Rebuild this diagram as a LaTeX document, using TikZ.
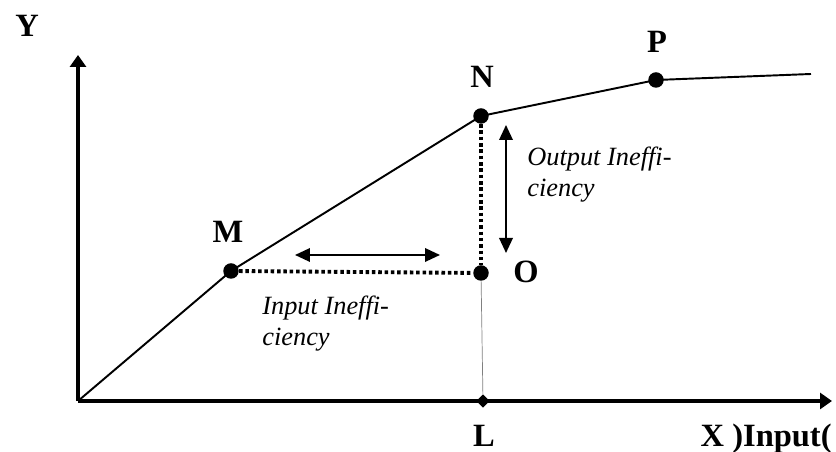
\documentclass[tikz,border=0pt]{standalone}
\usepackage{fontspec}
\setmainfont{Liberation Serif}[ItalicFont={Liberation Serif Italic}, BoldFont={Liberation Serif Bold}]
\usepackage{tikz}
\usetikzlibrary{arrows.meta,calc,positioning,shapes.geometric}

\begin{document}
\begin{tikzpicture}[
  x=0.02cm,y=0.02cm,
  dot/.style={circle, fill=black, inner sep=0pt, minimum size=0.31cm},
  tick/.style={diamond, fill=black, inner sep=0pt, minimum size=0.27cm},
  lbl/.style={font=\fontsize{18.5}{21}\selectfont\bfseries, inner sep=0pt, anchor=base},
  note/.style={font=\fontsize{15}{17.5}\selectfont\itshape, inner sep=0pt, align=left, anchor=north west},
  axis/.style={line width=2.3pt, -{Triangle[length=2.4mm, width=3.2mm]}},
  curve/.style={line width=1.1pt},
  gap/.style={line width=2.2pt, dash pattern=on 2pt off 1.6pt},
  drop/.style={line width=0.4pt, draw=gray},
  arr/.style={line width=1.1pt, {Triangle[length=3mm, width=2.7mm]}-{Triangle[length=3mm, width=2.7mm]}}
]
  \useasboundingbox (0,0) rectangle (836,452);

  \coordinate (orig) at (78,51);
  \coordinate (ytip) at (78,397);
  \coordinate (xtip) at (832,51);
  \coordinate (tail) at (811,378);

  \node[dot] (M) at (231,181) {};
  \node[dot] (N) at (481,336) {};
  \node[dot] (O) at (481,179) {};
  \node[dot] (P) at (656,372) {};
  \node[tick] (L) at (483,51) {};

  \coordinate (ha) at (295,197);
  \coordinate (hb) at (440,197);
  \coordinate (va) at (506,327);
  \coordinate (vb) at (506,199);

  \node[lbl] (ylbl) at (27,415) {Y};
  \node[lbl] (mlbl) at (228,209) {M};
  \node[lbl] (nlbl) at (482,364) {N};
  \node[lbl] (olbl) at (526,169) {O};
  \node[lbl] (plbl) at (657,399) {P};
  \node[lbl] (llbl) at (484,5) {L};
  \node[lbl, anchor=base east] (xlbl) at (832,5) {X )Input(};
  \node[note] (inp) at (262,156) {Input Ineffi-\\ciency};
  \node[note] (outp) at (527,305) {Output Ineffi-\\ciency};

  \draw[drop] (O) -- (L);
  \draw[axis] (orig) -- (ytip);
  \draw[axis] (orig) -- (xtip);
  \draw[curve] (orig) -- (M.center) -- (N.center) -- (P.center) -- (tail);
  \draw[gap] (M) -- (O);
  \draw[gap] (N) -- (O);
  \draw[arr] (ha) -- (hb);
  \draw[arr] (va) -- (vb);
\end{tikzpicture}
\end{document}
